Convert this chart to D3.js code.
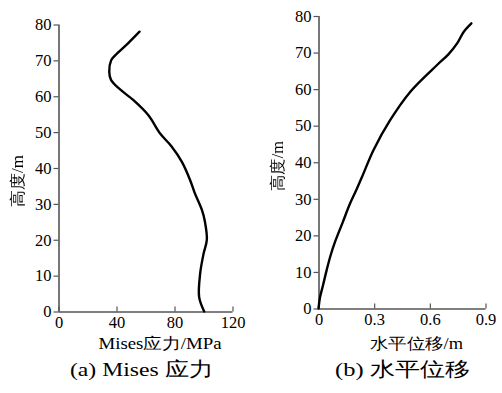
<!DOCTYPE html>
<html><head><meta charset="utf-8">
<script src="https://cdn.jsdelivr.net/npm/d3@7"></script>
<style>body{margin:0;background:#fff}svg{display:block}text{font-family:"Liberation Serif","Times New Roman",serif;fill:#000}</style>
</head><body><svg id="c" width="502" height="393"></svg>
<script>
// (a) Mises stress vs height
const misesStress = [100.5, 97, 97.7, 100, 102.3, 101, 98.9, 94, 90.8, 85.1, 78, 70.1, 62, 51.7, 42.5, 36.3, 35, 36.3, 39.1, 48.3, 55.9];
const misesHeight = [0, 4, 10.6, 16, 20, 25, 28.3, 33, 36.6, 41.7, 46, 49.6, 54.7, 58.9, 61.9, 64.5, 66.8, 70, 71.4, 74.9, 78];
// (b) horizontal displacement vs height
const dispValue = [0, 0.008, 0.025, 0.044, 0.065, 0.089, 0.13, 0.17, 0.2, 0.233, 0.296, 0.386, 0.495, 0.639, 0.7, 0.747, 0.783, 0.824];
const dispHeight = [0, 3, 6.5, 10.5, 14.5, 18.2, 23.5, 28.7, 32, 35.8, 43.3, 51.5, 59.3, 66.6, 69.5, 72.5, 75.7, 78];
const misesTicks = [0, 40, 80, 120];
const dispTicks = [0, 0.3, 0.6, 0.9];
const heightTicks = [0, 10, 20, 30, 40, 50, 60, 70, 80];

const svg = d3.select("#c");
const axisColor = "#555";
const serif = '"Liberation Serif","Times New Roman",serif';

function label(g, t, size, len){
  return g.append("text").attr("text-anchor", "middle").attr("fill", "#000")
    .style("font-family", serif).style("font-size", size + "px")
    .attr("textLength", len).attr("lengthAdjust", "spacingAndGlyphs").text(t);
}

function panel(o){
  const g = svg.append("g");
  const x = d3.scaleLinear().domain(o.xdom).range([o.x0, o.x1]);
  const y = d3.scaleLinear().domain([0, 80]).range([o.y0, o.y1]);
  const ya = g.append("g").attr("transform", `translate(${o.x0},0)`)
    .call(d3.axisLeft(y).tickValues(heightTicks).tickSize(5).tickPadding(2).tickFormat(d3.format("d")));
  const xa = g.append("g").attr("transform", `translate(0,${o.y0})`)
    .call(d3.axisBottom(x).tickValues(o.xticks).tickSize(-5).tickPadding(2).tickFormat(o.fmt));
  [ya, xa].forEach(a => {
    a.attr("font-family", serif).attr("font-size", 16.5);
    a.select(".domain").attr("stroke", axisColor).attr("stroke-width", 1.6);
    a.selectAll(".tick line").attr("stroke", axisColor).attr("stroke-width", 1.2);
    a.selectAll("text").style("font-family", serif).style("font-size", "16.5px").attr("fill", "#000");
  });
  ya.select(".domain").attr("d", `M0.5,${o.y0}V${o.y1}`);
  xa.select(".domain").attr("d", `M${o.x0},0.5H${o.x1}`);
  xa.selectAll(".tick text").attr("dy", "0.85em");
  const pts = o.xs.map((v, i) => [v, o.ys[i]]);
  g.append("path").datum(pts)
    .attr("fill", "none").attr("stroke", "#000").attr("stroke-width", 2.4)
    .attr("stroke-linejoin", "round").attr("stroke-linecap", "round")
    .attr("d", d3.line().x(d => x(d[0])).y(d => y(d[1])).curve(d3.curveCatmullRom.alpha(0.5)));
  label(g, o.xlabel, 16, o.xlabLen).attr("x", o.xlabX).attr("y", 349);
  const yg = g.append("g").style("filter", "grayscale(1)");
  label(yg, "高度/m", 16, o.ylabLen).attr("transform", `translate(${o.ylabX},${o.ylabY}) rotate(-90)`);
  label(g, o.caption, 19.5, o.capLen).attr("x", o.capX).attr("y", 376);
}

panel({xdom:[0,120], x0:58.5, x1:232.5, y0:311.5, y1:24.5, xticks:misesTicks, fmt:d3.format("d"),
  xs:misesStress, ys:misesHeight, xlabel:"Mises应力/MPa", xlabX:160, xlabLen:123,
  ylabX:23, ylabY:181, ylabLen:52,
  caption:"(a) Mises 应力", capX:141.5, capLen:143});
panel({xdom:[0,0.9], x0:318.5, x1:485.5, y0:308.5, y1:16, xticks:dispTicks, fmt:d => d === 0 ? "0" : d3.format(".1f")(d),
  xs:dispValue, ys:dispHeight, xlabel:"水平位移/m", xlabX:416.5, xlabLen:93,
  ylabX:283, ylabY:166, ylabLen:50,
  caption:"(b)  水平位移", capX:402.5, capLen:135});
</script></body></html>
